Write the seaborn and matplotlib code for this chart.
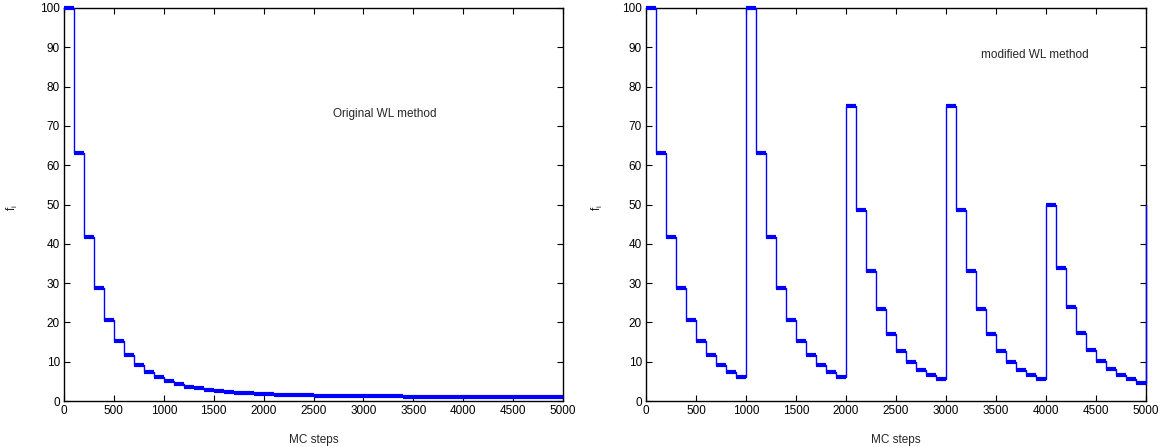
import numpy as np
import pandas as pd
import matplotlib
matplotlib.use("Agg")
import matplotlib.pyplot as plt
import seaborn as sns

# Modification factor f_i per block of 100 MC steps
steps = list(range(0, 5001, 100))

f_original = [100, 63.1, 41.7, 28.8, 20.6, 15.2, 11.6, 9.1, 7.3, 6.0,
              5.0, 4.25, 3.67, 3.22, 2.87, 2.58, 2.35, 2.16, 2.00, 1.87,
              1.75, 1.65, 1.57, 1.50, 1.44, 1.39, 1.35, 1.31, 1.27, 1.24,
              1.21, 1.19, 1.17, 1.15, 1.13, 1.12, 1.10, 1.09, 1.08, 1.07,
              1.06, 1.06, 1.05, 1.04, 1.04, 1.03, 1.03, 1.03, 1.02, 1.02,
              1.02]

f_modified = [100, 63.1, 41.7, 28.8, 20.6, 15.2, 11.6, 9.1, 7.3, 6.0,
              100, 63.1, 41.7, 28.8, 20.6, 15.2, 11.6, 9.1, 7.3, 6.0,
              75, 48.7, 33.1, 23.3, 17.0, 12.8, 10.0, 8.0, 6.5, 5.5,
              75, 48.7, 33.1, 23.3, 17.0, 12.8, 10.0, 8.0, 6.5, 5.5,
              50, 33.8, 23.8, 17.4, 13.1, 10.2, 8.1, 6.6, 5.5, 4.6,
              50]

panel_titles = ["Original WL method", "modified WL method"]
title_pos = [(2700, 73), (3350, 88)]

sns.set_theme(style="white")
plt.rcParams["font.family"] = ["Liberation Sans", "DejaVu Sans"]

fig = plt.figure(figsize=(11.7, 4.47), dpi=100)
axes = [fig.add_axes([64 / 1170, 1 - 401 / 447, 499 / 1170, 393 / 447]),
        fig.add_axes([646 / 1170, 1 - 401 / 447, 500 / 1170, 393 / 447])]

blue = "#0000ff"
for ax, series, title, (tx, ty) in zip(axes, [f_original, f_modified], panel_titles, title_pos):
    df = pd.DataFrame({"MC steps": steps, "f": series})
    sns.lineplot(data=df, x="MC steps", y="f", ax=ax, color=blue, lw=1.0,
                 drawstyle="steps-post", zorder=3, clip_on=False)
    # thick horizontal plateaus
    ax.hlines(df["f"].iloc[:-1], df["MC steps"].iloc[:-1], df["MC steps"].iloc[1:],
              color=blue, lw=3.0, zorder=3, clip_on=False)
    ax.set_xlim(0, 5000)
    ax.set_ylim(0, 100)
    ax.set_xticks(range(0, 5001, 500))
    ax.set_yticks(range(0, 101, 10))
    ax.tick_params(direction="in", length=4, width=0.8, top=True, right=True,
                   bottom=True, left=True, labelsize=8.5, colors="black", pad=3)
    for s in ax.spines.values():
        s.set_visible(True)
        s.set_color("black")
        s.set_linewidth(1.0)
    ax.set_xlabel("MC steps", fontsize=8.5, labelpad=12)
    ax.set_ylabel("")
    ax.text(tx, ty, title, fontsize=8.5, ha="left", va="center")
    ax.grid(False)

fig.text(12 / 1170, 1 - 208 / 447, r"f$_{\mathregular{i}}$", rotation=90,
         fontsize=8.5, ha="center", va="center")
fig.text(597 / 1170, 1 - 208 / 447, r"f$_{\mathregular{i}}$", rotation=90,
         fontsize=8.5, ha="center", va="center")

fig.savefig("out.png", dpi=100)
